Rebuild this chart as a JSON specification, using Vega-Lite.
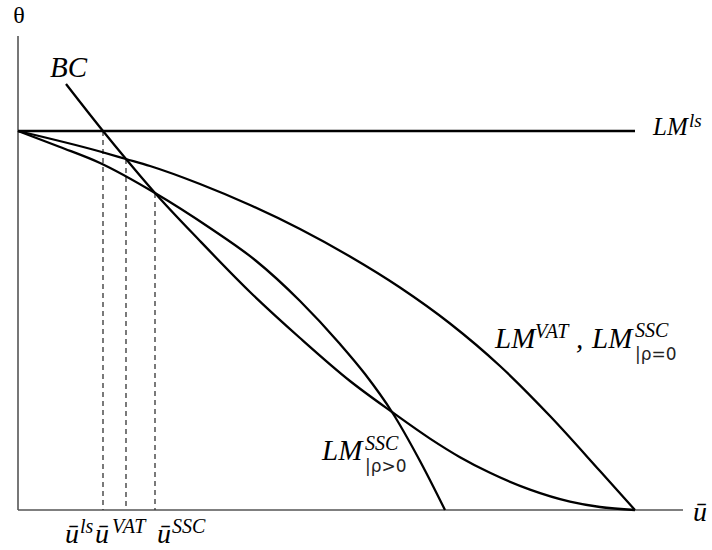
{
  "$schema": "https://vega.github.io/schema/vega-lite/v6.json",
  "width": 694,
  "height": 510,
  "autosize": {"type": "none"},
  "padding": {"left": 18, "top": 0, "right": 0, "bottom": 40},
  "config": {"view": {"stroke": null}},
  "datasets": {
    "curves": [
      {"curve": "ls", "u": 0, "theta": 379}, {"curve": "ls", "u": 617, "theta": 379},
      {"curve": "VAT", "u": 0, "theta": 379}, {"curve": "VAT", "u": 82, "theta": 358.5}, {"curve": "VAT", "u": 108, "theta": 351}, {"curve": "VAT", "u": 132, "theta": 344}, {"curve": "VAT", "u": 182, "theta": 326}, {"curve": "VAT", "u": 232, "theta": 305}, {"curve": "VAT", "u": 282, "theta": 281}, {"curve": "VAT", "u": 332, "theta": 253.5}, {"curve": "VAT", "u": 382, "theta": 222.5}, {"curve": "VAT", "u": 432, "theta": 186.5}, {"curve": "VAT", "u": 482, "theta": 144}, {"curve": "VAT", "u": 532, "theta": 94}, {"curve": "VAT", "u": 582, "theta": 39}, {"curve": "VAT", "u": 617, "theta": 0},
      {"curve": "SSC", "u": 0, "theta": 379}, {"curve": "SSC", "u": 42, "theta": 363}, {"curve": "SSC", "u": 82, "theta": 347}, {"curve": "SSC", "u": 137, "theta": 317}, {"curve": "SSC", "u": 192, "theta": 282}, {"curve": "SSC", "u": 237, "theta": 250}, {"curve": "SSC", "u": 282, "theta": 209}, {"curve": "SSC", "u": 322, "theta": 166}, {"curve": "SSC", "u": 347, "theta": 136}, {"curve": "SSC", "u": 374, "theta": 98}, {"curve": "SSC", "u": 402, "theta": 49}, {"curve": "SSC", "u": 427, "theta": 0},
      {"curve": "BC", "u": 48, "theta": 426}, {"curve": "BC", "u": 85, "theta": 379}, {"curve": "BC", "u": 108, "theta": 351}, {"curve": "BC", "u": 137, "theta": 317}, {"curve": "BC", "u": 182, "theta": 269}, {"curve": "BC", "u": 232, "theta": 218}, {"curve": "BC", "u": 282, "theta": 172}, {"curve": "BC", "u": 332, "theta": 129}, {"curve": "BC", "u": 374, "theta": 98}, {"curve": "BC", "u": 412, "theta": 71.4}, {"curve": "BC", "u": 442, "theta": 52.8}, {"curve": "BC", "u": 472, "theta": 37.2}, {"curve": "BC", "u": 512, "theta": 20.4}, {"curve": "BC", "u": 552, "theta": 8.4}, {"curve": "BC", "u": 582, "theta": 3}, {"curve": "BC", "u": 617, "theta": 0}
    ],
    "dashes": [
      {"u": 85, "top": 379}, {"u": 108, "top": 351}, {"u": 137, "top": 317}
    ],
    "axes": [
      {"x0": 0, "x1": 665, "y0": 0, "y1": 0},
      {"x0": 0, "x1": 0, "y0": 0, "y1": 474}
    ],
    "labels": [
      {"g": "big", "x": 32, "y": 433, "t": "BC"},
      {"g": "big", "x": 477, "y": 162, "t": "LM"},
      {"g": "big", "x": 558, "y": 162, "t": ","},
      {"g": "big", "x": 574, "y": 162, "t": "LM"},
      {"g": "big", "x": 304, "y": 50, "t": "LM"},
      {"g": "ubar", "x": 675, "y": -11, "t": "ū"},
      {"g": "ubar", "x": 47, "y": -33, "t": "ū"},
      {"g": "ubar", "x": 77, "y": -33, "t": "ū"},
      {"g": "ubar", "x": 139, "y": -33, "t": "ū"},
      {"g": "sup", "x": 517, "y": 172, "t": "VAT"},
      {"g": "sup", "x": 617, "y": 173, "t": "SSC"},
      {"g": "sup", "x": 347, "y": 60, "t": "SSC"},
      {"g": "sup", "x": 62, "y": -23, "t": "ls"},
      {"g": "sup", "x": 94, "y": -23, "t": "VAT"},
      {"g": "sup", "x": 154, "y": -23, "t": "SSC"},
      {"g": "sub", "x": 617, "y": 150, "t": "|ρ=0"},
      {"g": "sub", "x": 347, "y": 38, "t": "|ρ>0"},
      {"g": "lsmain", "x": 635, "y": 375, "t": "LM"},
      {"g": "lssup", "x": 671, "y": 383, "t": "ls"},
      {"g": "theta", "x": 1, "y": 494, "t": "θ"}
    ]
  },
  "layer": [
    {
      "data": {"name": "axes"},
      "mark": {"type": "rule", "color": "#555", "strokeWidth": 1.6},
      "encoding": {
        "x": {"field": "x0", "type": "quantitative", "scale": {"domain": [0, 694], "nice": false}, "axis": null},
        "x2": {"field": "x1"},
        "y": {"field": "y0", "type": "quantitative", "scale": {"domain": [0, 510], "nice": false}, "axis": null},
        "y2": {"field": "y1"}
      }
    },
    {
      "data": {"name": "dashes"},
      "mark": {"type": "rule", "color": "#333", "strokeWidth": 1.3, "strokeDash": [5, 4]},
      "encoding": {
        "x": {"field": "u", "type": "quantitative", "scale": {"domain": [0, 694], "nice": false}, "axis": null},
        "y": {"field": "top", "type": "quantitative", "scale": {"domain": [0, 510], "nice": false}, "axis": null},
        "y2": {"datum": 0}
      }
    },
    {
      "data": {"name": "curves"},
      "mark": {"type": "line", "color": "black", "strokeWidth": 2.3, "interpolate": "monotone"},
      "encoding": {
        "x": {"field": "u", "type": "quantitative", "scale": {"domain": [0, 694], "nice": false}, "axis": null},
        "y": {"field": "theta", "type": "quantitative", "scale": {"domain": [0, 510], "nice": false}, "axis": null},
        "detail": {"field": "curve"}
      }
    },
    {
      "data": {"name": "labels"},
      "transform": [{"filter": "datum.g === 'big'"}],
      "mark": {"type": "text", "font": "Liberation Serif", "fontStyle": "italic", "fontSize": 29, "align": "left", "baseline": "alphabetic", "color": "black"},
      "encoding": {
        "x": {"field": "x", "type": "quantitative", "scale": {"domain": [0, 694], "nice": false}, "axis": null},
        "y": {"field": "y", "type": "quantitative", "scale": {"domain": [0, 510], "nice": false}, "axis": null},
        "text": {"field": "t"}
      }
    },
    {
      "data": {"name": "labels"},
      "transform": [{"filter": "datum.g === 'ubar'"}],
      "mark": {"type": "text", "font": "Liberation Serif", "fontStyle": "italic", "fontSize": 28, "align": "left", "baseline": "alphabetic", "color": "black"},
      "encoding": {
        "x": {"field": "x", "type": "quantitative", "scale": {"domain": [0, 694], "nice": false}, "axis": null},
        "y": {"field": "y", "type": "quantitative", "scale": {"domain": [0, 510], "nice": false}, "axis": null},
        "text": {"field": "t"}
      }
    },
    {
      "data": {"name": "labels"},
      "transform": [{"filter": "datum.g === 'sup'"}],
      "mark": {"type": "text", "font": "Liberation Serif", "fontStyle": "italic", "fontSize": 20, "align": "left", "baseline": "alphabetic", "color": "black"},
      "encoding": {
        "x": {"field": "x", "type": "quantitative", "scale": {"domain": [0, 694], "nice": false}, "axis": null},
        "y": {"field": "y", "type": "quantitative", "scale": {"domain": [0, 510], "nice": false}, "axis": null},
        "text": {"field": "t"}
      }
    },
    {
      "data": {"name": "labels"},
      "transform": [{"filter": "datum.g === 'sub'"}],
      "mark": {"type": "text", "font": "DejaVu Sans", "fontSize": 17, "align": "left", "baseline": "alphabetic", "color": "#222"},
      "encoding": {
        "x": {"field": "x", "type": "quantitative", "scale": {"domain": [0, 694], "nice": false}, "axis": null},
        "y": {"field": "y", "type": "quantitative", "scale": {"domain": [0, 510], "nice": false}, "axis": null},
        "text": {"field": "t"}
      }
    },
    {
      "data": {"name": "labels"},
      "transform": [{"filter": "datum.g === 'lsmain'"}],
      "mark": {"type": "text", "font": "Liberation Serif", "fontStyle": "italic", "fontSize": 25, "align": "left", "baseline": "alphabetic", "color": "black"},
      "encoding": {
        "x": {"field": "x", "type": "quantitative", "scale": {"domain": [0, 694], "nice": false}, "axis": null},
        "y": {"field": "y", "type": "quantitative", "scale": {"domain": [0, 510], "nice": false}, "axis": null},
        "text": {"field": "t"}
      }
    },
    {
      "data": {"name": "labels"},
      "transform": [{"filter": "datum.g === 'lssup'"}],
      "mark": {"type": "text", "font": "Liberation Serif", "fontStyle": "italic", "fontSize": 19, "align": "left", "baseline": "alphabetic", "color": "black"},
      "encoding": {
        "x": {"field": "x", "type": "quantitative", "scale": {"domain": [0, 694], "nice": false}, "axis": null},
        "y": {"field": "y", "type": "quantitative", "scale": {"domain": [0, 510], "nice": false}, "axis": null},
        "text": {"field": "t"}
      }
    },
    {
      "data": {"name": "labels"},
      "transform": [{"filter": "datum.g === 'theta'"}],
      "mark": {"type": "text", "font": "Liberation Serif", "fontSize": 24, "align": "center", "baseline": "middle", "color": "black"},
      "encoding": {
        "x": {"field": "x", "type": "quantitative", "scale": {"domain": [0, 694], "nice": false}, "axis": null},
        "y": {"field": "y", "type": "quantitative", "scale": {"domain": [0, 510], "nice": false}, "axis": null},
        "text": {"field": "t"}
      }
    }
  ]
}
